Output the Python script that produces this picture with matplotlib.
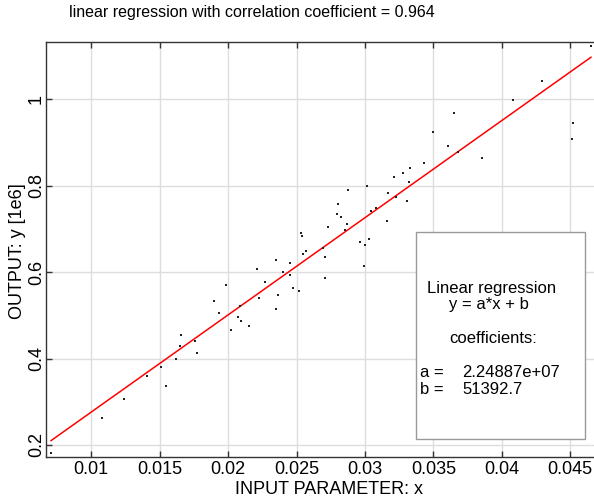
import matplotlib
matplotlib.use("Agg")
import matplotlib.pyplot as plt
from matplotlib.patches import Rectangle
import numpy as np

plt.rcParams['font.family'] = ['Liberation Sans', 'DejaVu Sans']

# data: INPUT PARAMETER x, OUTPUT y (in units of 1e6)
x_vals = [0.00706, 0.01078, 0.01237, 0.01405, 0.01507, 0.01548, 0.01617, 0.01648,
          0.01658, 0.01760, 0.01772, 0.01897, 0.01931, 0.01984, 0.02019, 0.02070,
          0.02087, 0.02096, 0.02150, 0.02212, 0.02229, 0.02267, 0.02350, 0.02361,
          0.02350, 0.02403, 0.02452, 0.02453, 0.02474, 0.02518, 0.02534, 0.02542,
          0.02545, 0.02567, 0.02692, 0.02706, 0.02708, 0.02727, 0.02799, 0.02794,
          0.02823, 0.02854, 0.02867, 0.02874, 0.02963, 0.02998, 0.03029, 0.02990,
          0.03012, 0.03046, 0.03079, 0.03159, 0.03167, 0.03210, 0.03223, 0.03274,
          0.03307, 0.03321, 0.03329, 0.03429, 0.03500, 0.03606, 0.03652, 0.03677,
          0.03853, 0.04079, 0.04291, 0.04518, 0.04516, 0.04651]
y_vals = [0.1822, 0.2632, 0.3058, 0.3597, 0.3805, 0.3365, 0.3983, 0.4284,
          0.4538, 0.4414, 0.4136, 0.5321, 0.5054, 0.5714, 0.4650, 0.4957,
          0.5223, 0.4862, 0.4758, 0.6077, 0.5402, 0.5783, 0.6286, 0.5478,
          0.5147, 0.6003, 0.6218, 0.5941, 0.5638, 0.5564, 0.6913, 0.6841,
          0.6424, 0.6494, 0.6563, 0.6355, 0.5864, 0.7045, 0.7577, 0.7345,
          0.7269, 0.6975, 0.7119, 0.7908, 0.6702, 0.6628, 0.6774, 0.6147,
          0.8000, 0.7415, 0.7489, 0.7190, 0.7820, 0.8195, 0.7743, 0.8301,
          0.7653, 0.8097, 0.8410, 0.8521, 0.9250, 0.8919, 0.9690, 0.8780,
          0.8646, 0.9990, 1.0428, 0.9451, 0.9074, 1.1240]

coef_a = 2.24887e+07
coef_b = 51392.7
corr = 0.964

x_ticks = [0.01, 0.015, 0.02, 0.025, 0.03, 0.035, 0.04, 0.045]
x_tick_labels = ['0.01', '0.015', '0.02', '0.025', '0.03', '0.035', '0.04', '0.045']
y_ticks = [0.2, 0.4, 0.6, 0.8, 1.0]
y_tick_labels = ['0.2', '0.4', '0.6', '0.8', '1']

W, H = 594, 501
fig = plt.figure(figsize=(W / 100, H / 100), dpi=100)
ax = fig.add_axes([45.7 / W, 1 - 456.7 / H, (W - 45.7) / W, (456.7 - 42) / H])

xs = np.array(x_vals)
ys = np.array(y_vals)
ax.plot(xs, ys, linestyle='none', marker='s', markersize=1.6, color='#222222',
        markeredgewidth=0, zorder=3)
xl = np.array([xs.min(), xs.max()])
ax.plot(xl, (coef_a * xl + coef_b) / 1e6, color='#ff0000', linewidth=1.1, zorder=2)

ax.set_xlim(0.006668, 0.046732)
ax.set_ylim(0.1729, 1.1326)
ax.set_xticks(x_ticks)
ax.set_xticklabels(x_tick_labels)
ax.set_yticks(y_ticks)
ax.set_yticklabels(y_tick_labels, rotation=90, va='center')
ax.tick_params(direction='in', length=4, width=1, color='#333333', top=True,
               right=False, labelsize=13, pad=3)
ax.tick_params(axis='y', pad=0.5)
ax.grid(True, color='#dddddd', linewidth=1.0, zorder=0)
ax.set_axisbelow(True)
for s in ['left', 'bottom', 'top']:
    ax.spines[s].set_color('#333333')
    ax.spines[s].set_linewidth(1.0)
ax.spines['right'].set_visible(False)

fig.text(251.5 / W, 1 - 12 / H,
         'linear regression with correlation coefficient = %.3f' % corr,
         ha='center', va='center', fontsize=11.5)
fig.text(329 / W, 1 - 489 / H, 'INPUT PARAMETER: x', ha='center', va='center',
         fontsize=13)
fig.text(18 / W, 1 - 251 / H, 'OUTPUT: y [1e6]', ha='center', va='center',
         fontsize=13, rotation=90)

# regression info box
bx0, bx1, by0, by1 = 415.7, 585.3, 231.7, 439.0
rect = Rectangle((bx0 / W, 1 - by1 / H), (bx1 - bx0) / W, (by1 - by0) / H,
                 transform=fig.transFigure, facecolor='white', edgecolor='#999999',
                 linewidth=1.0, zorder=5)
fig.add_artist(rect)
fs = 12
fig.text(492 / W, 1 - 288 / H, 'Linear regression', ha='center', va='center',
         fontsize=fs, zorder=6)
fig.text(489 / W, 1 - 305 / H, 'y = a*x + b', ha='center', va='center',
         fontsize=fs, zorder=6)
fig.text(493 / W, 1 - 338.5 / H, 'coefficients:', ha='center', va='center',
         fontsize=fs, zorder=6)
fig.text(420.5 / W, 1 - 372.5 / H, 'a =', ha='left', va='center', fontsize=fs, zorder=6)
fig.text(462.5 / W, 1 - 372.5 / H, '%g' % coef_a, ha='left', va='center',
         fontsize=fs, zorder=6)
fig.text(420.5 / W, 1 - 389.5 / H, 'b =', ha='left', va='center', fontsize=fs, zorder=6)
fig.text(462.5 / W, 1 - 389.5 / H, '%g' % coef_b, ha='left', va='center',
         fontsize=fs, zorder=6)

fig.savefig('out.png', dpi=100)
